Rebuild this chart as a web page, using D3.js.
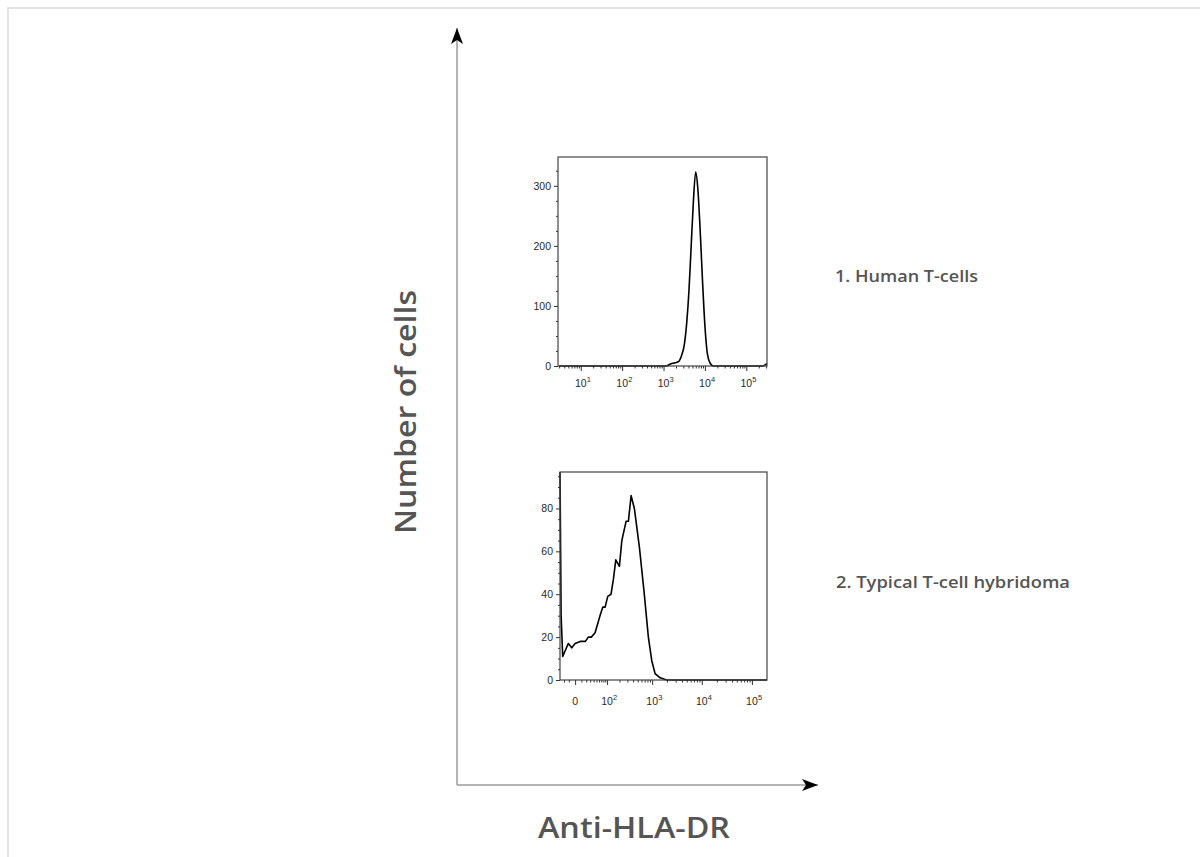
<!DOCTYPE html>
<html>
<script src="https://d3js.org/d3.v7.min.js"></script>
<head>
<style>
  body {margin: 0; background: #fff;}
  .tick-label {font: 10.5px "Liberation Sans", Arial, sans-serif; fill: #2a2a2a;}
  .sup {font: 7.5px "Liberation Sans", Arial, sans-serif; fill: #2a2a2a;}
  .big {font-family: "Open Sans", sans-serif; font-weight: 600; fill: #555;}
</style>
</head>
<body>
<svg id="chart" width="1200" height="857"></svg>

<script>
// panel 1 - human T-cells (log axis)
var topValues = [3, 1190, 1430, 1786, 2270, 2743, 3170, 3622, 4120, 4605, 5236, 5985, 6693, 7603, 8646, 10040, 11420, 13280, 15960, 250000, 300000, 316000];
var topCounts = [0, 0, 3, 5, 7, 18, 35, 71, 126, 193, 271, 323, 298, 232, 149, 65, 21, 5, 0, 0, 3, 4];

// panel 2 - hybridoma (biexponential axis)
var botValues = [-30, -27, -23, -11, -5, 0, 8, 18, 25, 33, 45, 64, 77, 89, 104, 126, 144, 164, 199, 226, 281, 316, 362, 425, 543, 681, 835, 981, 1146, 1452, 1980, 5000, 200000];
var botCounts = [97, 30, 11, 17, 15, 17, 18, 18, 20, 20, 22, 30, 34, 34, 39, 40, 47, 56, 53, 65, 74, 74, 86, 80, 62, 41, 20, 9, 3, 1, 0, 0, 0];

var topYTicks = [0, 100, 200, 300];
var botYTicks = [0, 20, 40, 60, 80];
var topXTicks = [10, 100, 1000, 10000, 100000];
var botXTicks = [0, 100, 1000, 10000, 100000];
var panelLabels = ["1. Human T-cells", "2. Typical T-cell hybridoma"];
var xTitle = "Anti-HLA-DR";
var yTitle = "Number of cells";

var svg = d3.select("#chart");

// light outer frame
svg.append("rect")
    .attr("x", 8).attr("y", 8)
    .attr("width", 1210).attr("height", 900)
    .attr("fill", "none")
    .attr("stroke", "#e4e4e4")
    .attr("stroke-width", 2);

// arrow head
svg.append("defs").append("marker")
    .attr("id", "arrow")
    .attr("viewBox", "0 0 16 12")
    .attr("refX", 16).attr("refY", 6)
    .attr("markerUnits", "userSpaceOnUse")
    .attr("markerWidth", 16).attr("markerHeight", 12)
    .attr("orient", "auto")
    .append("path")
    .attr("d", "M0,0 L16,6 L0,12 L4,6 Z")
    .attr("fill", "#000");

svg.append("line")
    .attr("x1", 457).attr("y1", 785).attr("x2", 457).attr("y2", 28)
    .attr("stroke", "#9a9a9a").attr("stroke-width", 1.5)
    .attr("marker-end", "url(#arrow)");
svg.append("line")
    .attr("x1", 457).attr("y1", 785).attr("x2", 818).attr("y2", 785)
    .attr("stroke", "#9a9a9a").attr("stroke-width", 1.5)
    .attr("marker-end", "url(#arrow)");

svg.append("text")
    .attr("class", "big")
    .attr("x", 634).attr("y", 838)
    .attr("text-anchor", "middle")
    .attr("font-size", 29)
    .attr("textLength", 192).attr("lengthAdjust", "spacingAndGlyphs")
    .text(xTitle);

svg.append("text")
    .attr("class", "big")
    .attr("transform", "translate(416,412) rotate(-90)")
    .attr("text-anchor", "middle")
    .attr("font-size", 29)
    .attr("textLength", 244).attr("lengthAdjust", "spacingAndGlyphs")
    .text(yTitle);

function logMinors(lo, hi) {
    var out = [];
    for (var e = -1; e <= 6; e++) {
        for (var k = 2; k <= 9; k++) {
            var v = k * Math.pow(10, e);
            if (v > lo && v < hi) out.push(v);
        }
    }
    return out;
}

function drawPanel(cfg) {
    var g = svg.append("g");
    var x = cfg.x, y = cfg.y;
    var x0 = x.range()[0], x1 = x.range()[1];
    var yb = y.range()[0], yt = y.range()[1];

    // minor ticks
    g.append("g")
        .attr("transform", "translate(0," + yb + ")")
        .call(d3.axisBottom(x).tickValues(cfg.xMinor).tickSize(2.5).tickFormat(""))
        .call(function(a) { a.select(".domain").remove(); a.selectAll("line").attr("stroke", "#333"); });
    g.append("g")
        .attr("transform", "translate(0," + yb + ")")
        .call(d3.axisBottom(x).tickValues(cfg.xTicks).tickSize(5).tickFormat(""))
        .call(function(a) { a.select(".domain").remove(); a.selectAll("line").attr("stroke", "#333"); });
    g.append("g")
        .attr("transform", "translate(" + x0 + ",0)")
        .call(d3.axisLeft(y).tickValues(cfg.yMinor).tickSize(2).tickFormat(""))
        .call(function(a) { a.select(".domain").remove(); a.selectAll("line").attr("stroke", "#333"); });
    g.append("g")
        .attr("transform", "translate(" + x0 + ",0)")
        .call(d3.axisLeft(y).tickValues(cfg.yTicks).tickSize(4).tickPadding(3))
        .call(function(a) {
            a.select(".domain").remove();
            a.selectAll("line").attr("stroke", "#333");
            a.selectAll("text").attr("class", "tick-label").attr("fill", null).attr("font-family", null);
        });
    // strip default font attrs on axes groups
    g.selectAll("g").attr("font-family", null).attr("font-size", null);

    // x labels with superscripts
    cfg.xTicks.forEach(function(v) {
        var px = x(v);
        if (v === 0) {
            g.append("text").attr("class", "tick-label")
                .attr("x", px).attr("y", yb + cfg.labelDy)
                .attr("text-anchor", "middle").text("0");
        } else {
            g.append("text").attr("class", "tick-label")
                .attr("x", px).attr("y", yb + cfg.labelDy)
                .attr("text-anchor", "middle").text("10");
            g.append("text").attr("class", "sup")
                .attr("x", px + 6).attr("y", yb + cfg.labelDy - 5)
                .text(Math.round(Math.log10(v)));
        }
    });

    // curve
    var line = d3.line()
        .x(function(d) { return x(d[0]); })
        .y(function(d) { return y(d[1]); })
        .curve(cfg.curve);
    g.append("path")
        .datum(cfg.values.map(function(v, i) { return [v, cfg.counts[i]]; }))
        .attr("d", line)
        .attr("fill", "none")
        .attr("stroke", "#000")
        .attr("stroke-width", 1.6)
        .attr("stroke-linejoin", "round");

    // box
    g.append("rect")
        .attr("x", x0).attr("y", yt)
        .attr("width", x1 - x0).attr("height", yb - yt)
        .attr("fill", "none")
        .attr("stroke", "#444")
        .attr("stroke-width", 1.2);

    svg.append("text")
        .attr("class", "big")
        .attr("x", cfg.labelX).attr("y", cfg.labelY)
        .attr("font-size", 17)
        .attr("textLength", cfg.labelW).attr("lengthAdjust", "spacingAndGlyphs")
        .text(cfg.label);
}

var xTop = d3.scaleLog().domain([Math.pow(10, 0.45), Math.pow(10, 5.5)]).range([558, 767]);
var yTop = d3.scaleLinear().domain([0, 348]).range([366, 157]);
drawPanel({
    x: xTop, y: yTop,
    xTicks: topXTicks,
    xMinor: logMinors(Math.pow(10, 0.45), Math.pow(10, 5.5)),
    yTicks: topYTicks,
    yMinor: d3.range(25, 348, 25).filter(function(v) { return v % 100 !== 0; }),
    values: topValues, counts: topCounts,
    curve: d3.curveMonotoneX,
    labelDy: 21,
    label: panelLabels[0], labelX: 835, labelY: 282, labelW: 143
});

var xBot = d3.scaleSymlog().constant(30).domain([-30, 200000]).range([560, 767]);
var yBot = d3.scaleLinear().domain([0, 97]).range([680, 472]);
drawPanel({
    x: xBot, y: yBot,
    xTicks: botXTicks,
    xMinor: [-20, -10].concat(d3.range(10, 100, 10)).concat(logMinors(100, 200000)),
    yTicks: botYTicks,
    yMinor: d3.range(5, 97, 5).filter(function(v) { return v % 20 !== 0; }),
    values: botValues, counts: botCounts,
    curve: d3.curveLinear,
    labelDy: 25,
    label: panelLabels[1], labelX: 836, labelY: 588, labelW: 234
});
</script>
</body>
</html>
